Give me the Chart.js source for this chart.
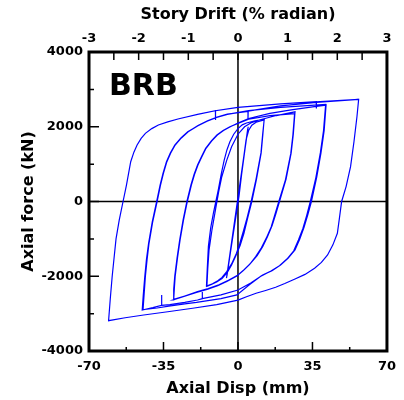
<!DOCTYPE html>
<html>
<head>
<meta charset="utf-8">
<script src="https://cdn.jsdelivr.net/npm/chart.js@4.4.0/dist/chart.umd.min.js"></script>
<style>
  html, body { margin: 0; padding: 0; background: #fff; }
  #wrap { width: 404px; height: 400px; }
</style>
</head>
<body>
<div id="wrap"><canvas id="brbChart" width="404" height="400"></canvas></div>
<script>
// tick values
const dispTicks = [-70, -35, 0, 35, 70];
const dispMinor = [-52.5, -17.5, 17.5, 52.5];
const driftTicks = [-3, -2, -1, 0, 1, 2, 3];
const driftMinor = [-2.5, -1.5, -0.5, 0.5, 1.5, 2.5];
const forceTicks = [-4000, -2000, 0, 2000, 4000];
const forceMinor = [-3000, -1000, 1000, 3000];

// hysteresis path (mm) - one line per half cycle
const dispMm = [
  0, 4.6, -5.4, 4.8, -5.2,
  -3.5, -1.5, 0.5, 2.5, 3.8, 5, 6.5, 8.5, 12.3,
  11.6, 10.8, 8.5, 6.2, 4.3, 2.5, 0.8, -0.7, -3, -5.3, -7.5, -9.5, -12, -14.8,
  -14.4, -13.9, -12.8, -11.5, -9.3, -7.8, -6.5, -5.2, -3.8, -2, 0, 2, 4, 8, 12.3,
  11.7, 10.9, 8.7, 6.5, 4.6, 2.8, 1, -1, -3, -5, -7.5, -10, -12.5, -14.6,
  -14.2, -13.6, -12.2, -10.5, -9.1, -7.6, -5.3, -3, 0, 3.1, 6, 10, 18, 26.8,
  26, 25, 22.6, 19.5, 17.8, 16, 13.8, 11.6, 9, 6, 3, 0, -4.5, -9, -14, -19, -25, -30.5,
  -30.2, -29.7, -28.6, -27.4, -25.8, -24, -22.1, -20.6, -19, -17, -15.2, -12.5, -9.9, -7, -3.8, 0, 5, 15, 26.6,
  25.8, 24.8, 22.3, 19.2, 17.4, 15.6, 13.3, 11, 8.4, 5.5, 2.5, -0.5, -5, -9.5, -14.5, -19.5, -25, -30.2,
  -29.9, -29.5, -28.4, -27.2, -25.6, -23.8, -21.9, -20.4, -18.8, -16.8, -15, -12.3, -9.7, -6.8, -3.6, 0, 5, 15, 25, 35, 41.4,
  40.5, 39, 37, 34.5, 32.8, 31, 29, 26.8, 23.5, 20, 16, 11.6, 6, 0, -8, -16.8, -16.8, -16.7, -19, -25, -32, -35.9, -35.9, -35.8, -40, -45,
  -44.5, -43.8, -43, -42, -40.3, -38.2, -36.6, -35.2, -33.6, -31.8, -29.7, -26.8, -23.6, -19, -14.5, -10, -5, 5, 20, 41.2,
  40.2, 38.7, 36.6, 34, 32.3, 30.5, 28.4, 26.2, 23, 19.5, 15.5, 11, 5.5, -0.5, -8, -19.5, -25, -32.5, -38, -44.6,
  -44.1, -43.5, -42.7, -41.8, -40.1, -38, -36.4, -35, -33.4, -31.6, -29.5, -26.6, -23.4, -18.8, -14.3, -9.8, -5, 4.7, 4.7, 4.8, 20, 36.8, 56.7,
  55.9, 54.5, 52.9, 50.8, 48.7, 47.7, 46.7, 44.6, 42.1, 39.2, 36, 31.5, 26.8, 22, 17.7, 13, 8.5, 4, 0, -10, -21.3, -33, -44.3, -53, -60.8,
  -60, -59.1, -58.2, -57.3, -55.8, -54, -52.4, -50.4, -48.9, -47.4, -45.5, -43.5, -40.5, -37.4, -33, -28.2, -19, -10.6, -10.6, -10.5, 0, 20, 36.8, 36.8, 36.9, 56.7
];
// matching axial force (kN)
const forceKn = [
  0, 1950, -2050, 2000, -2000,
  -1350, -600, 150, 1100, 1650, 1900, 2040, 2120, 2180,
  1800, 1300, 600, 0, -430, -800, -1130, -1386, -1670, -1878, -2030, -2120, -2200, -2260,
  -1750, -1200, -700, -300, 300, 750, 1100, 1380, 1600, 1800, 1950, 2050, 2100, 2160, 2200,
  1800, 1300, 600, 0, -430, -850, -1180, -1450, -1700, -1900, -2060, -2150, -2220, -2270,
  -1800, -1300, -750, -200, 250, 663, 1100, 1466, 1800, 2000, 2100, 2180, 2300, 2400,
  1800, 1300, 600, 0, -330, -650, -950, -1209, -1450, -1650, -1820, -1966, -2110, -2230, -2330, -2413, -2530, -2635,
  -2350, -1993, -1500, -1030, -500, 0, 441, 730, 976, 1220, 1423, 1620, 1779, 1900, 2001, 2090, 2200, 2300, 2350,
  1780, 1280, 580, 0, -340, -680, -980, -1240, -1470, -1680, -1850, -1990, -2130, -2250, -2350, -2430, -2530, -2620,
  -2330, -2000, -1500, -1030, -500, 0, 441, 730, 976, 1220, 1423, 1620, 1779, 1900, 2001, 2100, 2220, 2360, 2450, 2530, 2581,
  1900, 1300, 650, 0, -360, -700, -1010, -1297, -1520, -1700, -1850, -1966, -2180, -2367, -2500, -2600, -2420, -2600, -2635, -2700, -2760, -2780, -2500, -2780, -2840, -2903,
  -2500, -2012, -1550, -1118, -550, 0, 441, 760, 1065, 1300, 1511, 1700, 1867, 2020, 2150, 2250, 2330, 2430, 2520, 2600,
  1900, 1300, 640, 0, -370, -720, -1030, -1320, -1540, -1720, -1860, -1990, -2220, -2500, -2600, -2700, -2740, -2800, -2850, -2890,
  -2480, -2000, -1550, -1118, -550, 0, 441, 760, 1065, 1300, 1511, 1700, 1867, 2030, 2160, 2260, 2340, 2410, 2180, 2420, 2560, 2650, 2734,
  2268, 1600, 931, 400, 0, -430, -851, -1160, -1431, -1630, -1787, -1950, -2073, -2195, -2295, -2380, -2456, -2550, -2640, -2760, -2857, -2950, -3036, -3110, -3189,
  -2600, -2000, -1500, -1000, -500, 0, 441, 1065, 1320, 1511, 1690, 1824, 1950, 2046, 2130, 2207, 2333, 2430, 2180, 2430, 2520, 2610, 2670, 2490, 2670, 2734
];

const nPts = Math.min(dispMm.length, forceKn.length);
const points = dispMm.slice(0, nPts).map((x, i) => ({ x: x, y: forceKn[i] }));

const FONT = "'DejaVu Sans', Arial, sans-serif";
const tickFont = { family: FONT, size: 13, weight: "bold" };
const titleFont = { family: FONT, size: 16, weight: "bold" };

// frame, inward ticks, zero lines and the BRB label
const framePlugin = {
  id: "frame",
  beforeDatasetsDraw(chart) {
    const { ctx, chartArea: a, scales } = chart;
    ctx.save();
    ctx.strokeStyle = "#000";
    ctx.lineWidth = 1.5;
    ctx.beginPath();
    const x0 = scales.x.getPixelForValue(0);
    const y0 = scales.y.getPixelForValue(0);
    ctx.moveTo(x0, a.top);
    ctx.lineTo(x0, a.bottom);
    ctx.moveTo(a.left, y0);
    ctx.lineTo(a.right, y0);
    ctx.stroke();
    ctx.restore();
  },
  afterDraw(chart) {
    const { ctx, chartArea: a, scales } = chart;
    ctx.save();
    ctx.strokeStyle = "#000";
    ctx.lineWidth = 1.5;
    ctx.beginPath();
    const bottomTick = (v, len) => {
      const px = scales.x.getPixelForValue(v);
      ctx.moveTo(px, a.bottom);
      ctx.lineTo(px, a.bottom - len);
    };
    dispTicks.forEach(v => bottomTick(v, 9));
    dispMinor.forEach(v => bottomTick(v, 4));
    const leftTick = (v, len) => {
      const py = scales.y.getPixelForValue(v);
      ctx.moveTo(a.left, py);
      ctx.lineTo(a.left + len, py);
    };
    forceTicks.forEach(v => leftTick(v, 10));
    forceMinor.forEach(v => leftTick(v, 5));
    driftTicks.concat(driftMinor).forEach(v => {
      const px = scales.x2.getPixelForValue(v);
      ctx.moveTo(px, a.top);
      ctx.lineTo(px, a.top + 8);
    });
    ctx.stroke();

    ctx.lineWidth = 3;
    ctx.strokeRect(a.left, a.top, a.right - a.left, a.bottom - a.top);

    ctx.fillStyle = "#000";
    ctx.font = "bold 30px " + FONT;
    ctx.textAlign = "left";
    ctx.textBaseline = "alphabetic";
    ctx.fillText("BRB", a.left + 20, a.top + 43);
    ctx.restore();
  }
};

new Chart(document.getElementById("brbChart"), {
  type: "scatter",
  data: {
    datasets: [
      {
        label: "BRB",
        data: points,
        showLine: true,
        borderColor: "#0000ff",
        borderWidth: 1.2,
        pointRadius: 0,
        tension: 0,
        fill: false,
      },
    ],
  },
  options: {
    responsive: false,
    animation: false,
    layout: { padding: { left: 0, right: 10, top: 0, bottom: 0 } },
    plugins: {
      legend: { display: false },
      tooltip: { enabled: false },
    },
    scales: {
      x: {
        type: "linear",
        position: "bottom",
        min: -70,
        max: 70,
        afterBuildTicks: (s) => { s.ticks = dispTicks.map(v => ({ value: v })); },
        afterFit: (s) => { s.height = 49; },
        grid: { display: false, drawTicks: false },
        border: { display: false },
        ticks: { font: tickFont, color: "#000", padding: 8, maxRotation: 0, callback: (v) => String(v) },
        title: { display: true, text: "Axial Disp (mm)", font: titleFont, color: "#000", padding: { top: 0, bottom: 2 } },
      },
      x2: {
        type: "linear",
        axis: "x",
        position: "top",
        min: -3,
        max: 3,
        afterBuildTicks: (s) => { s.ticks = driftTicks.map(v => ({ value: v })); },
        afterFit: (s) => { s.height = 52; },
        grid: { display: false, drawTicks: false },
        border: { display: false },
        ticks: { font: tickFont, color: "#000", padding: 6, maxRotation: 0, callback: (v) => String(v) },
        title: { display: true, text: "Story Drift (% radian)", font: titleFont, color: "#000", padding: { top: 5, bottom: 0 } },
      },
      y: {
        type: "linear",
        position: "left",
        min: -4000,
        max: 4000,
        afterBuildTicks: (s) => { s.ticks = forceTicks.map(v => ({ value: v })); },
        afterFit: (s) => { s.width = 89; },
        grid: { display: false, drawTicks: false },
        border: { display: false },
        ticks: { font: tickFont, color: "#000", padding: 6, callback: (v) => String(v) },
        title: { display: true, text: "Axial force (kN)", font: titleFont, color: "#000", padding: { top: 19, bottom: 0 } },
      },
    },
  },
  plugins: [framePlugin],
});
</script>
</body>
</html>
